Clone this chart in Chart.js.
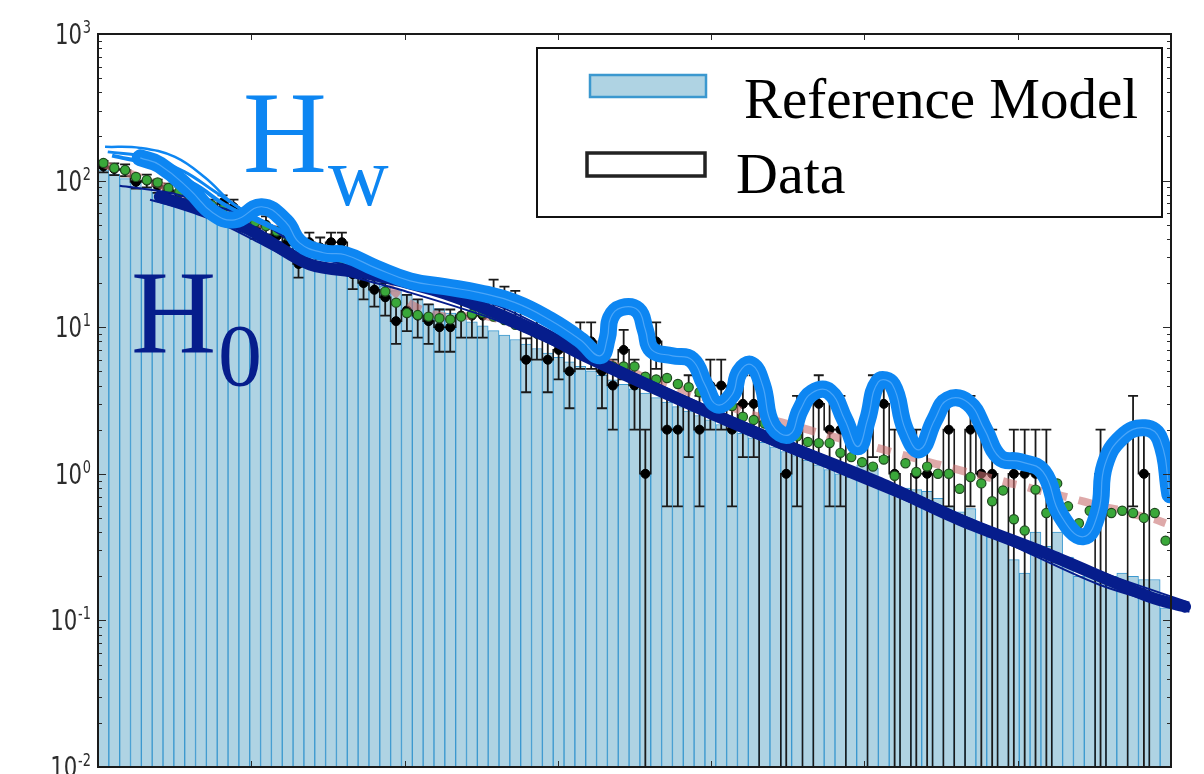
<!DOCTYPE html>
<html>
<head>
<meta charset="utf-8">
<script src="https://cdn.jsdelivr.net/npm/chart.js@4.4.1/dist/chart.umd.min.js"></script>
<style>
  html, body { margin: 0; padding: 0; background: #fff; }
  #wrap { width: 1204px; height: 774px; }
</style>
</head>
<body>
<div id="wrap"><canvas id="histChart" width="1204" height="774"></canvas></div>
<script>
// values, one entry per bin (99 bins)
const modelValues = [
  118.6, 110.6, 103.1, 96.1, 89.6, 83.5, 77.8, 72.6, 67.6, 63.1,
  58.8, 54.8, 51.1, 47.6, 44.4, 41.4, 38.6, 36.0, 33.5, 31.3,
  29.1, 27.2, 25.3, 23.6, 22.0, 20.5, 19.1, 17.8, 16.6, 15.5,
  14.4, 13.4, 12.5, 11.7, 10.9, 10.2, 9.48, 8.84, 8.24, 7.68,
  7.16, 6.67, 6.22, 5.80, 5.40, 5.04, 4.70, 4.38, 4.08, 3.80,
  3.55, 3.31, 3.08, 2.87, 2.68, 2.50, 2.33, 2.17, 2.02, 1.89,
  1.76, 1.64, 1.53, 1.42, 1.33, 1.24, 1.15, 1.07, 1.00, 0.95,
  1.15, 1.10, 0.85, 0.75, 0.80, 0.78, 0.76, 0.68, 0.60, 0.55,
  0.58, 0.45, 0.37, 0.40, 0.26, 0.21, 0.40, 0.32, 0.40, 0.27,
  0.20, 0.22, 0.21, 0.20, 0.21, 0.20, 0.19, 0.19, 0.122
];
const dataCounts = [
  125, 120, 118, 98, 100, 92, 86, 82, 76, 70,
  66, 71, 66, 52, 47, 50, 42, 38, 27, 38,
  35, 38, 38, 23, 20, 18, 16, 11, 13, 12,
  11, 10, 10, 12, 12, 12, 17, 15, 14, 6,
  9, 6, 7, 5, 8, 8, 5, 4, 7, 4,
  1, 8, 2, 2, 3, 2, 4, 4, 2, 3,
  3, 0, 0, 1, 2, 0, 3, 2, 2, 0,
  0, 3, 3, 1, 0, 1, 1, 0, 2, 0,
  2, 1, 1, 0, 1, 1, 1, 1, 0, 0,
  0, 0, 1, 0, 0, 2, 1, 0, 0
];
const dataErrors = [
  11.2, 11.0, 10.9, 9.9, 10.0, 9.6, 9.3, 9.1, 8.7, 8.4,
  8.1, 8.4, 8.1, 7.2, 6.9, 7.1, 6.5, 6.2, 5.2, 6.2,
  5.9, 6.2, 6.2, 4.8, 4.5, 4.2, 4.0, 3.3, 3.6, 3.5,
  3.3, 3.2, 3.2, 3.5, 3.5, 3.5, 4.1, 3.9, 3.7, 2.4,
  3.0, 2.4, 2.6, 2.2, 2.8, 2.8, 2.2, 2.0, 2.6, 2.0,
  1.0, 2.8, 1.4, 1.4, 1.7, 1.4, 2.0, 2.0, 1.4, 1.7,
  1.7, 0, 0, 1.0, 1.4, 0, 1.7, 1.4, 1.4, 0,
  0, 1.7, 1.7, 1.0, 0, 1.0, 1.0, 0, 1.4, 0,
  1.4, 1.0, 1.0, 0, 1.0, 1.0, 1.0, 1.0, 0, 0,
  0, 0, 1.0, 0, 0, 1.4, 1.0, 0, 0
];
const greenValues = [
  132, 122, 118, 106, 101, 97, 89, 84, 78, 73,
  68, 64, 60, 56, 52, 49, 45, 42, 39, 36,
  33, 31, 29, 27, 25, 22.3, 17.5, 14.7, 12.5, 12.1,
  11.8, 11.5, 11.3, 11.8, 12.3, 12.5, 11.8, 11.2, 10.4, 9.9,
  9.1, 8.5, 8.0, 7.4, 6.9, 6.3, 5.8, 5.4, 5.4, 5.4,
  4.6, 4.4, 4.5, 4.1, 3.9, 3.6, 3.3, 3.05, 2.9, 2.45,
  2.33, 2.2, 2.05, 1.9, 1.8, 1.65, 1.62, 1.62, 1.39, 1.3,
  1.2, 1.12, 1.25, 0.97, 1.18, 1.03, 1.12, 1.0, 1.0, 0.79,
  0.95, 0.86, 0.65, 0.77, 0.49, 0.41, 0.78, 0.54, 0.86, 0.6,
  0.46, 0.56, 0.57, 0.54, 0.56, 0.54, 0.5, 0.54, 0.35
];
const fitValues = [
  130, 122, 115, 108, 101, 95, 89, 84, 78, 73,
  69, 64, 60, 56, 52, 49, 46, 43, 40, 37,
  35, 32.5, 30, 28, 26, 23.5, 20, 17, 15, 13.5,
  12.5, 12, 11.8, 11.8, 12, 12, 11.6, 11, 10.4, 9.8,
  9.1, 8.5, 8, 7.4, 6.9, 6.4, 6, 5.6, 5.2, 4.9,
  4.5, 4.3, 4.1, 3.85, 3.6, 3.4, 3.2, 3.0, 2.85, 2.65,
  2.5, 2.4, 2.3, 2.2, 2.1, 2.0, 1.9, 1.82, 1.74, 1.66,
  1.6, 1.53, 1.46, 1.39, 1.33, 1.27, 1.21, 1.16, 1.11, 1.06,
  1.01, 0.97, 0.93, 0.89, 0.85, 0.82, 0.78, 0.75, 0.72, 0.69,
  0.66, 0.63, 0.60, 0.58, 0.56, 0.53, 0.51, 0.49, 0.46
];

// hand-drawn overlay curves, [bin position, value]
const h0Band = [
  [5.7, 77.5], [9.4, 63.2], [14.0, 46.2], [19.6, 26.7], [24.6, 23.5], [30.9, 18.0],
  [35.5, 13.6], [40.8, 9.16], [44.5, 6.59], [53.7, 3.20], [62.9, 1.63], [72.1, 0.868],
  [79.5, 0.486], [87.8, 0.280], [97.0, 0.145], [100.3, 0.124]
];
const h0StrandA = [
  [2.0, 92.2], [6.6, 82.6], [10.8, 67.3], [14.9, 52.4], [20.5, 29.7], [27.9, 22.4],
  [37.1, 13.8], [46.3, 6.28], [55.5, 3.05], [64.8, 1.55], [74.0, 0.803], [83.2, 0.402],
  [92.4, 0.215], [100.7, 0.132]
];
const h0StrandB = [
  [4.8, 74.0], [9.4, 59.4], [14.0, 40.7], [18.6, 27.9], [27.9, 18.0], [37.1, 10.9],
  [46.3, 5.37], [55.5, 2.61], [64.8, 1.31], [74.0, 0.686], [83.2, 0.355], [92.4, 0.175],
  [100.7, 0.1145]
];
const hwBand = [
  [3.9, 143], [5.7, 128], [8.5, 86.5], [10.6, 60.3], [12.6, 54.0], [15.1, 66.3],
  [17.3, 52.4], [18.6, 37.6], [20.8, 32.2], [22.8, 31.2], [25.6, 25.4], [28.8, 20.7],
  [32.0, 18.9], [35.2, 17.2], [38.5, 14.7], [41.7, 11.2], [44.5, 8.20], [46.3, 6.38],
  [47.0, 8.47], [47.3, 11.6], [48.3, 13.6], [49.8, 13.1], [50.5, 9.60], [51.1, 7.01],
  [53.0, 6.38], [54.8, 5.99], [56.0, 4.05], [57.1, 2.96], [58.5, 3.46], [59.2, 4.96],
  [60.3, 5.54], [61.3, 4.05], [62.2, 2.16], [63.8, 1.85], [64.8, 2.73], [65.9, 3.57],
  [67.5, 3.63], [68.9, 2.34], [70.1, 1.53], [71.0, 2.34], [72.0, 4.24], [73.3, 4.05],
  [74.5, 2.00], [75.8, 1.46], [77.2, 2.34], [78.4, 3.20], [80.3, 3.05], [81.8, 2.00],
  [83.2, 1.29], [85.1, 1.21], [87.2, 1.03], [88.8, 0.525], [90.9, 0.372], [92.3, 0.551],
  [92.9, 1.15], [94.5, 1.79], [96.6, 2.06], [98.0, 1.71], [98.9, 0.719]
];
const hwStrand1 = [[0.65, 170], [3.9, 167], [7.1, 145], [9.9, 104.5], [12.6, 68.4], [15.4, 52.4], [18.2, 40.7]];
const hwStrand2 = [[0.9, 157], [4.8, 143], [8.0, 114.8], [10.8, 83.9], [13.6, 61.3], [16.8, 46.2]];
const hwStrand3 = [[1.3, 148], [5.3, 126], [9.0, 93.6], [11.7, 68.4], [14.5, 54.0], [17.7, 42.0]];

const yTickValues = [0.01, 0.1, 1, 10, 100, 1000];
const yTickLabels = ['10^-2', '10^-1', '10^0', '10^1', '10^2', '10^3'];
const legendLabels = ['Reference Model', 'Data'];

const colors = {
    barFill: '#afd3e3',
    barEdge: '#3b98cf',
    hw: '#0d86f2',
    h0: '#061d8c',
    green: '#3aa83a',
    fit: 'rgba(200,112,112,0.6)',
    ink: '#1a1a1a'
};

const toXY = arr => arr.map(p => ({x: p[0], y: p[1]}));

const modelPoints = modelValues.map((v, i) => ({x: i + 0.5, y: v}));
const dataPoints = dataCounts.map((c, i) => ({x: i + 0.5, y: c > 0 ? c : null}));
const greenPoints = greenValues.map((v, i) => ({x: i + 0.5, y: v}));
const fitPoints = fitValues.map((v, i) => ({x: i + 0.5, y: v}));
const stepPoints = [];
dataCounts.forEach((c, i) => {
    const y = c > 0 ? c : 0.001;   // empty bins drop below the axis
    stepPoints.push({x: i, y: y}, {x: i + 1, y: y});
});

const errorBars = {
    id: 'errorBars',
    beforeDatasetDraw(chart, args) {
        if (chart.data.datasets[args.index].label !== 'Data points') return;
        const {ctx, chartArea, scales: {x, y}} = chart;
        ctx.save();
        ctx.beginPath();
        ctx.rect(chartArea.left, chartArea.top, chartArea.width, chartArea.height);
        ctx.clip();
        ctx.strokeStyle = colors.ink;
        ctx.lineWidth = 1.8;
        dataCounts.forEach((c, i) => {
            if (c <= 0) return;
            const px = x.getPixelForValue(i + 0.5);
            const lo = c - dataErrors[i];
            const hi = c + dataErrors[i];
            const pyHi = y.getPixelForValue(hi);
            const pyLo = lo > 0 ? y.getPixelForValue(lo) : chartArea.bottom + 2;
            ctx.beginPath();
            ctx.moveTo(px, pyLo);
            ctx.lineTo(px, pyHi);
            ctx.moveTo(px - 5, pyHi);
            ctx.lineTo(px + 5, pyHi);
            if (lo > 0) {
                ctx.moveTo(px - 5, pyLo);
                ctx.lineTo(px + 5, pyLo);
            }
            ctx.stroke();
        });
        ctx.restore();
    }
};

const handLabels = {
    id: 'handLabels',
    afterDatasetsDraw(chart) {
        const ctx = chart.ctx;
        ctx.save();
        ctx.textBaseline = 'alphabetic';
        ctx.textAlign = 'left';
        ctx.fillStyle = colors.hw;
        ctx.font = '116px "Liberation Serif"';
        ctx.fillText('H', 243, 172);
        ctx.font = '84px "Liberation Serif"';
        ctx.fillText('w', 328, 205);
        ctx.fillStyle = colors.h0;
        ctx.font = '118px "Liberation Serif"';
        ctx.fillText('H', 131, 352);
        ctx.font = '88px "Liberation Serif"';
        ctx.fillText('0', 218, 385);
        ctx.restore();
    }
};

const frameAndLegend = {
    id: 'frameAndLegend',
    afterDraw(chart) {
        const {ctx, chartArea: a, scales: {x, y}} = chart;
        ctx.save();
        // inward ticks
        ctx.strokeStyle = '#2a2a2a';
        ctx.lineWidth = 1;
        for (let e = -2; e < 3; e++) {
            for (let m = 1; m < 10; m++) {
                const py = Math.round(y.getPixelForValue(m * Math.pow(10, e))) + 0.5;
                const len = m === 1 ? 8 : 4;
                ctx.beginPath();
                ctx.moveTo(a.left, py); ctx.lineTo(a.left + len, py);
                ctx.moveTo(a.right, py); ctx.lineTo(a.right - len, py);
                ctx.stroke();
            }
        }
        for (let k = 1; k < 7; k++) {
            const px = Math.round(x.getPixelForValue(k * 99 / 7)) + 0.5;
            ctx.beginPath();
            ctx.moveTo(px, a.top); ctx.lineTo(px, a.top + 6);
            ctx.moveTo(px, a.bottom); ctx.lineTo(px, a.bottom - 6);
            ctx.stroke();
        }
        // frame
        ctx.strokeStyle = colors.ink;
        ctx.lineWidth = 2;
        ctx.strokeRect(a.left, a.top, a.right - a.left, a.bottom - a.top);

        // y tick labels with superscript exponents
        ctx.fillStyle = '#2c2c2c';
        yTickValues.forEach((v, i) => {
            const parts = yTickLabels[i].split('^');
            const py = y.getPixelForValue(v);
            ctx.save();
            ctx.translate(91, 0);
            ctx.scale(0.76, 1);
            ctx.textAlign = 'right';
            ctx.textBaseline = 'alphabetic';
            ctx.font = '17px "DejaVu Sans"';
            const supW = ctx.measureText(parts[1]).width;
            ctx.fillText(parts[1], 0, py - 1);
            ctx.font = '28px "DejaVu Sans"';
            ctx.fillText(parts[0], -supW - 1, py + 10);
            ctx.restore();
        });

        // legend
        ctx.fillStyle = '#fff';
        ctx.fillRect(537, 48, 625, 169);
        ctx.strokeStyle = '#111';
        ctx.lineWidth = 2;
        ctx.strokeRect(537, 48, 625, 169);
        ctx.fillStyle = colors.barFill;
        ctx.fillRect(590, 75, 116, 22);
        ctx.strokeStyle = colors.barEdge;
        ctx.lineWidth = 2.5;
        ctx.strokeRect(590, 75, 116, 22);
        ctx.strokeStyle = '#222';
        ctx.lineWidth = 3.5;
        ctx.strokeRect(587, 153, 118, 23);
        ctx.fillStyle = '#000';
        ctx.textAlign = 'left';
        ctx.textBaseline = 'alphabetic';
        ctx.font = '57px "Liberation Serif"';
        ctx.fillText(legendLabels[0], 744, 118);
        ctx.font = '58px "Liberation Serif"';
        ctx.fillText(legendLabels[1], 736, 193);
        ctx.restore();
    }
};

function generateHistChart() {
    const ctx = document.getElementById('histChart').getContext('2d');
    new Chart(ctx, {
        type: 'bar',
        data: {
            datasets: [
                {
                    type: 'line', label: 'Hw texture', data: toXY(hwBand), order: 0,
                    borderColor: 'rgba(150,205,255,0.45)', borderWidth: 1.2, pointRadius: 0, tension: 0.45
                },
                {
                    type: 'line', label: 'Hw', data: toXY(hwBand), order: 1,
                    borderColor: colors.hw, borderWidth: 17, pointRadius: 0, tension: 0.45,
                    borderCapStyle: 'round', borderJoinStyle: 'round'
                },
                {
                    type: 'line', label: 'Hw strand 1', data: toXY(hwStrand1), order: 2,
                    borderColor: colors.hw, borderWidth: 2.5, pointRadius: 0, tension: 0.4
                },
                {
                    type: 'line', label: 'Hw strand 2', data: toXY(hwStrand2), order: 2,
                    borderColor: colors.hw, borderWidth: 3, pointRadius: 0, tension: 0.4
                },
                {
                    type: 'line', label: 'Hw strand 3', data: toXY(hwStrand3), order: 2,
                    borderColor: colors.hw, borderWidth: 4, pointRadius: 0, tension: 0.4
                },
                {
                    type: 'line', label: 'H0', data: toXY(h0Band), order: 3, clip: false,
                    borderColor: colors.h0, borderWidth: 12, pointRadius: 0, tension: 0.3,
                    borderCapStyle: 'round'
                },
                {
                    type: 'line', label: 'H0 strand A', data: toXY(h0StrandA), order: 4, clip: false,
                    borderColor: colors.h0, borderWidth: 2, pointRadius: 0, tension: 0.3
                },
                {
                    type: 'line', label: 'H0 strand B', data: toXY(h0StrandB), order: 4, clip: false,
                    borderColor: colors.h0, borderWidth: 2, pointRadius: 0, tension: 0.3
                },
                {
                    type: 'line', label: 'Expected', data: greenPoints, order: 5, showLine: false,
                    pointRadius: 4.6, pointBackgroundColor: colors.green,
                    pointBorderColor: '#1f4a1f', pointBorderWidth: 1.2
                },
                {
                    type: 'line', label: 'Fit', data: fitPoints, order: 6,
                    borderColor: colors.fit, borderWidth: 8, borderDash: [14, 12],
                    pointRadius: 0, tension: 0.3
                },
                {
                    type: 'line', label: 'Data points', data: dataPoints, order: 7, showLine: false,
                    pointRadius: 4.5, pointBackgroundColor: '#000', pointBorderColor: '#000'
                },
                {
                    type: 'line', label: 'Data', data: stepPoints, order: 8,
                    borderColor: colors.ink, borderWidth: 1.6, pointRadius: 0, tension: 0
                },
                {
                    type: 'bar', label: 'Reference Model', data: modelPoints, order: 9,
                    backgroundColor: colors.barFill, borderColor: colors.barEdge,
                    borderWidth: 1, barPercentage: 1, categoryPercentage: 1
                }
            ]
        },
        options: {
            responsive: false,
            animation: false,
            devicePixelRatio: 1,
            events: [],
            layout: { padding: { left: 0, top: 34, right: 33, bottom: 7 } },
            plugins: {
                legend: { display: false },
                tooltip: { enabled: false }
            },
            scales: {
                x: {
                    type: 'linear', min: 0, max: 99, offset: false, display: false,
                    grid: { offset: false }
                },
                y: {
                    type: 'logarithmic', min: 0.01, max: 1000,
                    ticks: { display: false },
                    grid: { display: false, drawTicks: false },
                    border: { display: false },
                    afterFit(scale) { scale.width = 98; }
                }
            }
        },
        plugins: [errorBars, handLabels, frameAndLegend]
    });
}

document.addEventListener("DOMContentLoaded", () => {
    generateHistChart();
});
</script>
</body>
</html>
